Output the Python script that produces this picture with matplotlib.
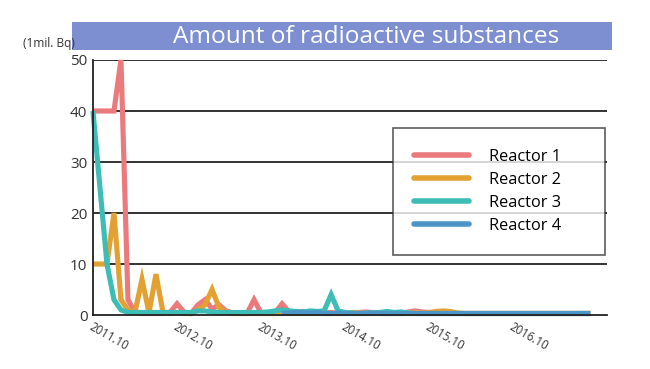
import matplotlib.pyplot as plt
import numpy as np
from matplotlib.patches import Rectangle

nan = np.nan

# monthly values from 2011.10 (index 0) to 2017.09 (index 71), unit: 1 mil. Bq
reactor1 = [40, 40, 40, 40, 50, 3, 0.5, 0.3, 0.3, 0.3, 0.3, 0.5,
            2.2, 0.6, 0.3, 2.0, 3.0, 1.2, 2.0, 0.8, 0.4, 0.3, 0.3, 3.0,
            0.4, 0.3, 0.4, 2.2, 0.6, 0.5, 0.7, 0.5, 0.6, 0.4, 0.5, 0.3,
            0.3, 0.4, 0.5, 0.6, 0.4, 0.5, 0.3, 0.4, 0.3, 0.6, 0.8, 0.6,
            0.5, 0.4, 0.5, 0.3, 0.3, 0.3, 0.3, 0.3, 0.3, 0.3, 0.3, 0.3,
            0.3, 0.3, 0.3, 0.3, 0.3, 0.3, 0.3, 0.3, 0.3, 0.3, 0.3, 0.3]
reactor2 = [10, 10, 10, 20, 3, 1, 0.5, 7, 0.5, 8, 0.5, 0.3,
            0.5, 0.3, 0.3, 1.0, 2.0, 5.0, 1.5, 0.5, 0.3, 0.3, 0.3, 0.3,
            0.3, 0.3, 0.3, 0.3, 0.4, 0.3, 0.3, 0.3, 0.3, 0.3, 0.3, 0.3,
            0.3, 0.5, 0.4, 0.3, 0.3, 0.3, 0.3, 0.3, 0.3, 0.4, 0.5, 0.4,
            0.5, 0.7, 0.8, 0.7, 0.4, 0.3, 0.3, 0.3, 0.3, 0.3, 0.3, 0.3,
            0.3, 0.3, 0.3, 0.3, 0.3, 0.3, 0.3, 0.3, 0.3, 0.3, 0.3, 0.3]
reactor3 = [40, 25, 10, 3, 1, 0.5, 0.5, 0.5, 0.5, 0.5, 0.5, 0.5,
            0.5, 0.5, 0.5, 0.8, 0.8, 0.6, 0.5, 0.5, 0.5, 0.5, 0.5, 0.5,
            0.5, 0.6, 0.8, 1.0, 0.8, 0.7, 0.6, 0.8, 0.7, 0.8, 4.0, 0.8,
            0.5, 0.4, 0.3, 0.4, 0.4, 0.5, 0.7, 0.5, 0.6, 0.4, 0.3, 0.3,
            0.3, 0.3, 0.3, 0.3, 0.3, 0.3, 0.3, 0.3, 0.3, 0.3, 0.3, 0.3,
            0.3, 0.3, 0.3, 0.3, 0.3, 0.3, 0.3, 0.3, 0.3, 0.3, 0.3, 0.3]
reactor4 = [nan] * 27 + [
            0.3, 0.4, 0.5, 0.5, 0.4, 0.5, 0.3, 0.3, 0.4,
            0.3, 0.3, 0.3, 0.3, 0.4, 0.3, 0.3, 0.3, 0.3, 0.3, 0.3, 0.3,
            0.3, 0.3, 0.3, 0.3, 0.3, 0.3, 0.3, 0.3, 0.3, 0.3, 0.3, 0.3,
            0.3, 0.3, 0.3, 0.3, 0.3, 0.3, 0.3, 0.3, 0.3, 0.3, 0.3, 0.3]

series = [("Reactor 1", reactor1, "#ea7a7c"),
          ("Reactor 2", reactor2, "#e3a133"),
          ("Reactor 3", reactor3, "#3dbdb6"),
          ("Reactor 4", reactor4, "#4b96c6")]

tick_labels = ["2011.10", "2012.10", "2013.10", "2014.10", "2015.10", "2016.10"]
tick_pos = [0, 12, 24, 36, 48, 60]

plt.rcParams['font.family'] = ['Open Sans', 'DejaVu Sans']

fig = plt.figure(figsize=(6.5, 3.69), dpi=100)
ax = fig.add_axes([0.143, 0.1463, 0.791, 0.6911])

months = np.arange(len(reactor1))
for name, vals, col in series:
    ax.plot(months[:len(vals)], vals, color=col, lw=3.7, label=name,
            solid_joinstyle='miter', solid_capstyle='butt', clip_on=False)

ax.set_xlim(0, 73.4)
ax.set_ylim(0, 50)
ax.set_yticks([0, 10, 20, 30, 40, 50])
for yv in [10, 20, 30, 40, 50]:
    ax.axhline(yv, color='#222222', lw=1.3, zorder=0)
for s in ['top', 'right']:
    ax.spines[s].set_visible(False)
ax.spines['left'].set_linewidth(1.3)
ax.spines['bottom'].set_linewidth(1.3)
ax.spines['left'].set_color('#222222')
ax.spines['bottom'].set_color('#222222')
ax.tick_params(axis='y', length=0, labelsize=11, labelcolor='#333333', pad=4)
ax.set_xticks(tick_pos)
ax.set_xticklabels(tick_labels, rotation=-30, ha='left', va='top',
                   rotation_mode='anchor', fontsize=8.3, color='#333333')
ax.tick_params(axis='x', length=0, pad=4)

leg = ax.legend(loc='upper left', bbox_to_anchor=(0.584, 0.733, 0.412, 0.0),
                mode='expand', fontsize=11.8, frameon=True, fancybox=False,
                edgecolor='#333333', handlelength=3.4, handletextpad=1.2,
                labelspacing=0.44, borderpad=1.25, borderaxespad=0)
leg.get_frame().set_linewidth(1.2)
for h in leg.get_lines():
    h.set_solid_capstyle('round')
    h.set_linewidth(4.0)

# title bar
fig.patches.append(Rectangle((0.111, 0.8645), 0.831, 0.0759, transform=fig.transFigure,
                             facecolor='#7d8fd1', edgecolor='none'))
fig.text(0.563, 0.899, "Amount of radioactive substances", color='white',
         fontsize=17.6, ha='center', va='center')
fig.text(0.036, 0.881, "(1mil. Bq)", fontsize=8.6, ha='left', va='center',
         color='#333333')

plt.savefig("out.png", dpi=100)
